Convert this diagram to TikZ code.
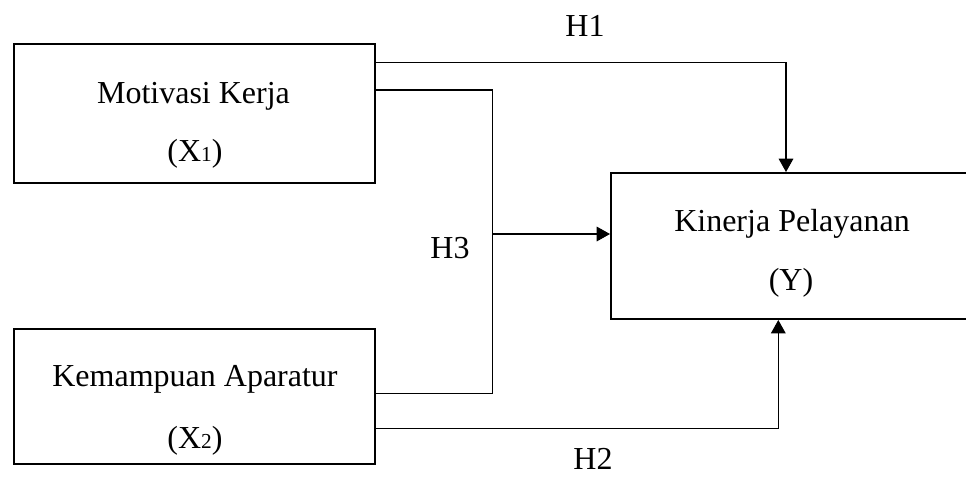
\documentclass[tikz,border=0pt]{standalone}
\usepackage{fontspec}
\setmainfont{Liberation Serif}
\usetikzlibrary{arrows.meta,calc}
\newcommand{\subidx}[1]{{\fontsize{16}{16}\selectfont #1}}
\begin{document}
\begin{tikzpicture}[x=0.75pt,y=-0.75pt,
  box/.style={draw,line width=1.5pt,rectangle,inner sep=0pt},
  lbl/.style={anchor=base,inner sep=0pt,font=\fontsize{24}{28}\selectfont},
  conn/.style={line width=0.8pt},
  arr/.style={line width=0.8pt,-{Triangle[length=10pt,width=11pt]}}]
\useasboundingbox (0,0) rectangle (966,476);
% boxes
\node[box,minimum width=270.75pt,minimum height=104.25pt] (b1) at (194.5,113.5) {};
\node[box,minimum width=270.75pt,minimum height=101.25pt] (b2) at (194.5,396.5) {};
\node[box,minimum width=269.25pt,minimum height=109.5pt] (ky) at (790.5,246) {};
% texts
\node[lbl] (t1a) at (193.5,103.3) {Motivasi Kerja};
\node[lbl] (t1b) at (195,161.7) {(X\subidx{1})};
\node[lbl] (t2a) at (195,386) {Kemampuan Aparatur};
\node[lbl] (t2b) at (195,448) {(X\subidx{2})};
\node[lbl] (tya) at (792,231.7) {Kinerja Pelayanan};
\node[lbl] (tyb) at (791,290) {(Y)};
\node[lbl] (h1) at (585,36.7) {H1};
\node[lbl] (h3) at (450,258) {H3};
\node[lbl] (h2) at (593,469.5) {H2};
% connectors
\draw[arr] ($(b1.north east)+(0,19.7)$) -| ($(ky.north)+(-4.5,0)$);
\coordinate (ja) at (492.5,90);
\coordinate (j) at (492.5,234);
\coordinate (jb) at (492.5,393.3);
\draw[conn] (b1.east |- ja) -- (ja) -- (jb) -- (b2.east |- jb);
\draw[arr] (j) -- (j -| ky.west);
\draw[arr] ($(b2.north east)+(0,100.5)$) -| ($(ky.south)+(-12.2,0)$);
\end{tikzpicture}
\end{document}
